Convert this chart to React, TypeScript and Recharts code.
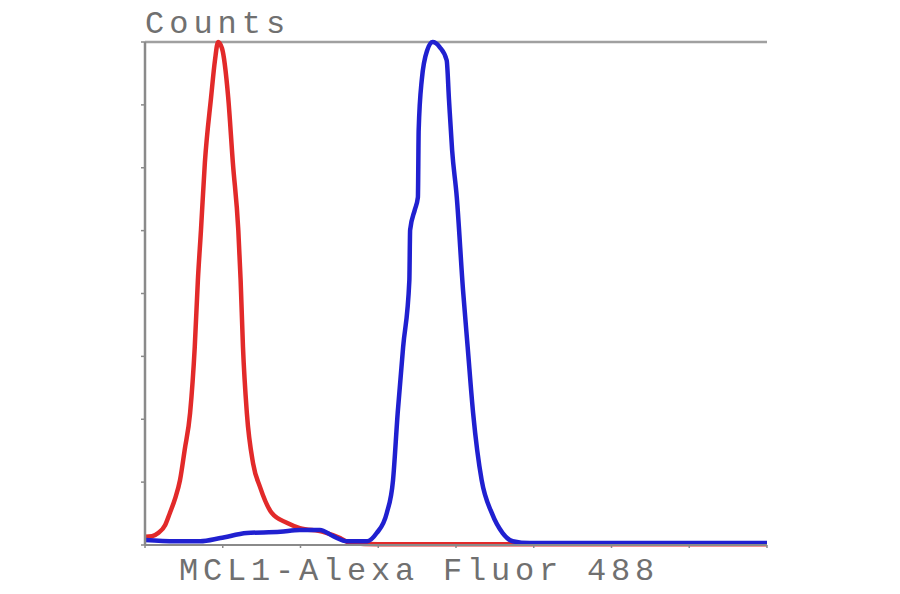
import { Line, LineChart, ReferenceLine, XAxis, YAxis } from "recharts";

// Flow histogram: red = isotype control, blue = MCL1 stained cells.
const ticks = [0, 100, 200, 300, 400, 500, 600, 700, 800];

const redChannel = [0, 9, 17, 26, 32, 39, 45, 51, 58, 64, 68, 72, 77, 85, 90, 94, 99, 107, 113, 120, 123, 126, 131, 139, 148, 163, 183, 199, 229, 251, 264, 300, 400, 500, 600, 700, 800];
const redCounts = [13, 14, 19, 32, 51, 75, 103, 151, 210, 315, 421, 501, 608, 712, 771, 800, 790, 712, 608, 501, 421, 315, 210, 130, 92, 51, 35, 27, 21, 11, 3, 1, 1, 1, 1, 1, 1];

const blueChannel = [0, 39, 71, 97, 131, 174, 199, 225, 242, 260, 286, 298, 311, 319, 325, 332, 340, 341, 347, 351, 352, 356, 363, 370, 379, 388, 391, 395, 401, 409, 415, 422, 433, 446, 460, 473, 495, 600, 700, 800];
const blueCounts = [8, 6, 6, 11, 19, 21, 24, 24, 14, 6, 6, 19, 51, 103, 210, 315, 421, 501, 533, 553, 660, 740, 787, 800, 792, 771, 708, 628, 553, 406, 315, 210, 103, 51, 19, 6, 3, 3, 3, 3];

const red = redChannel.map((x, i) => ({ x, y: redCounts[i] }));
const blue = blueChannel.map((x, i) => ({ x, y: blueCounts[i] }));

const AXIS = "#8a8a8a";
const TEXT = "#707070";
const FONT = "'Liberation Mono', monospace";

export default function App() {
  return (
    <div style={{ position: "fixed", left: 0, top: 0, width: 900, height: 594, background: "#fff" }}>
      <LineChart width={900} height={594} margin={{ top: 42, right: 133, bottom: 39, left: 135 }}>
        <XAxis
          type="number" dataKey="x" domain={[0, 800]} ticks={ticks} tickFormatter={() => ""}
          height={10} tickSize={3}
          axisLine={{ stroke: AXIS, strokeWidth: 2 }} tickLine={{ stroke: AXIS, strokeWidth: 1.5 }}
        />
        <YAxis
          type="number" dataKey="y" domain={[0, 800]} ticks={ticks} tickFormatter={() => ""}
          width={10} tickSize={4}
          axisLine={{ stroke: AXIS, strokeWidth: 2.5 }} tickLine={{ stroke: AXIS, strokeWidth: 1.5 }}
        />
        <ReferenceLine y={800} stroke="#a0a0a0" strokeWidth={2.5} />
        <Line data={red} dataKey="y" type="monotone" stroke="#e22a2a" strokeWidth={4.5} dot={false} isAnimationActive={false} />
        <Line data={blue} dataKey="y" type="monotone" stroke="#2020d0" strokeWidth={4.5} dot={false} isAnimationActive={false} />
      </LineChart>
      <svg width={900} height={594} style={{ position: "absolute", left: 0, top: 0, pointerEvents: "none" }}>
        <text x={145} y={33} fontFamily={FONT} fontSize={32} letterSpacing={5} fill={TEXT}>Counts</text>
        <text x={179} y={580} fontFamily={FONT} fontSize={32} letterSpacing={4.8} fill={TEXT}>MCL1-Alexa Fluor 488</text>
      </svg>
    </div>
  );
}
